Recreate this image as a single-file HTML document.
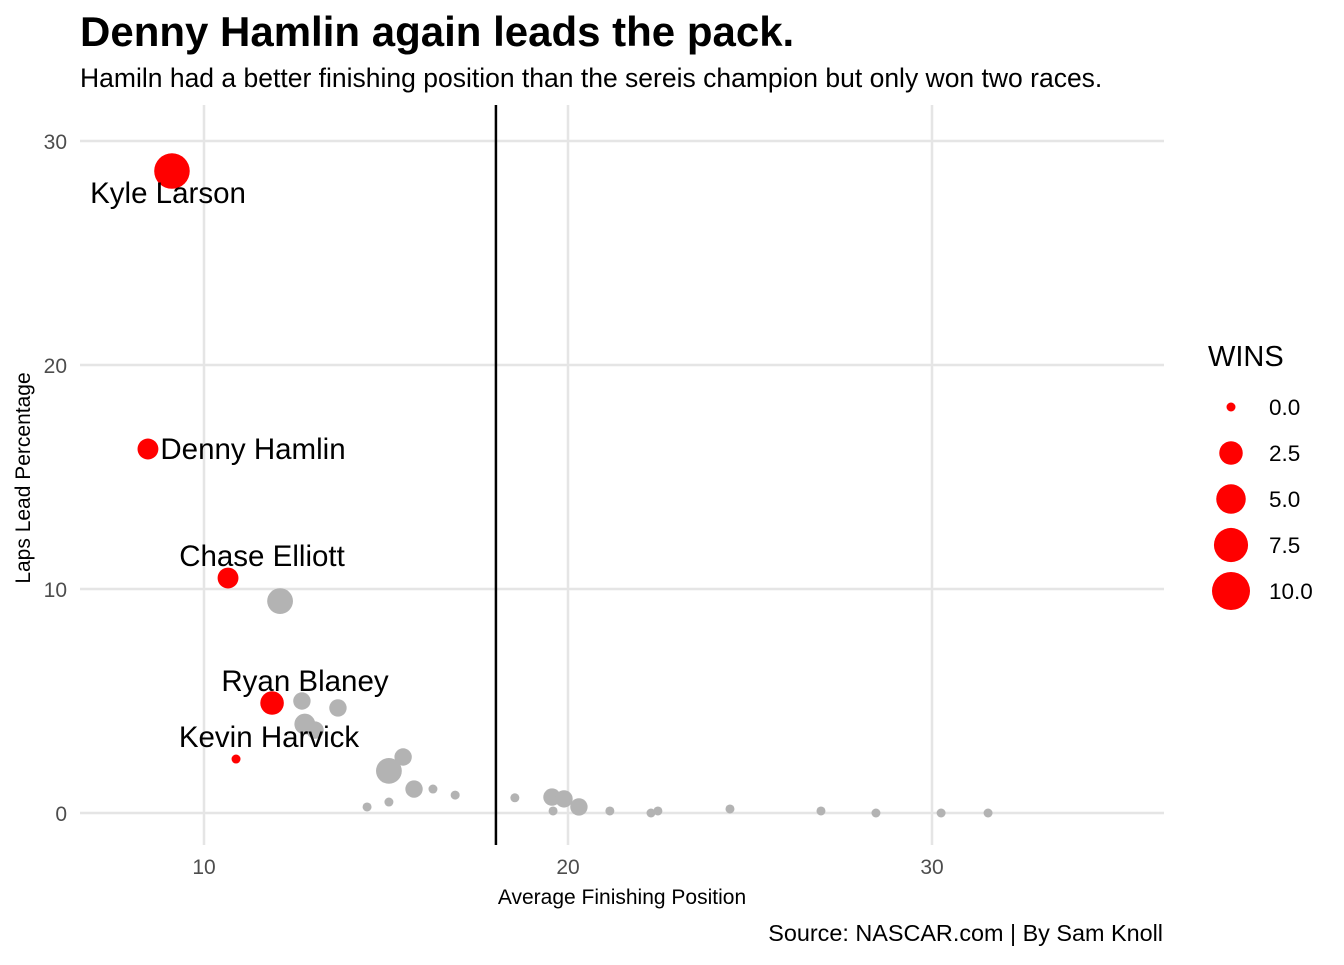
<!DOCTYPE html>
<html><head><meta charset="utf-8"><style>
body{margin:0;background:#fff;font-family:"Liberation Sans",Arial,sans-serif}
svg text{font-family:"Liberation Sans",Arial,sans-serif}
</style></head><body>
<svg id="c" width="1344" height="960" xmlns="http://www.w3.org/2000/svg">
<text x="80" y="46" font-size="42" font-weight="bold" fill="#000">Denny Hamlin again leads the pack.</text>
<text x="80" y="87" font-size="26.5" fill="#000">Hamiln had a better finishing position than the sereis champion but only won two races.</text>
<g id="grid"></g><g id="pts"></g><g id="lbls"></g>
<text x="622" y="904" font-size="21" text-anchor="middle" fill="#000">Average Finishing Position</text>
<text transform="translate(30,478) rotate(-90)" font-size="21" text-anchor="middle" fill="#000">Laps Lead Percentage</text>
<text x="1163" y="941" font-size="23.4" text-anchor="end" fill="#000">Source: NASCAR.com | By Sam Knoll</text>
<text x="1208" y="366" font-size="29" fill="#000">WINS</text>
<g id="leg"></g>
</svg>
<script>
const xs=[9.12,8.46,10.66,11.87,10.88,12.09,12.69,13.68,12.77,13.05,15.47,15.08,15.77,16.29,16.9,14.48,15.08,18.54,19.56,19.89,19.59,20.3,21.15,22.28,22.47,24.45,26.95,28.46,30.25,31.54];
const ys=[28.66,16.25,10.49,4.91,2.41,9.46,5.0,4.69,3.97,3.7,2.5,1.88,1.07,1.07,0.8,0.27,0.49,0.68,0.71,0.63,0.09,0.27,0.09,0,0.09,0.18,0.09,0,0,0];
const wins=[10,2,2,3,0,4,1,1,2,1,1,4,1,0,0,0,0,0,1,1,0,1,0,0,0,0,0,0,0,0];
const playoff=[1,1,1,1,1,0,0,0,0,0,0,0,0,0,0,0,0,0,0,0,0,0,0,0,0,0,0,0,0,0];
const names=["Kyle Larson","Denny Hamlin","Chase Elliott","Ryan Blaney","Kevin Harvick"];
const xTicks=[10,20,30];
const yTicks=[0,10,20,30];
const legendVals=[0,2.5,5,7.5,10];
const vline=18.02;
const X=v=>204+(v-10)*36.4, Y=v=>813-v*22.4;
const R=w=>4.5+4.2*Math.sqrt(w);
const NS="http://www.w3.org/2000/svg";
function mk(p,t,a){const e=document.createElementNS(NS,t);for(const k in a)e.setAttribute(k,a[k]);p.appendChild(e);return e;}
const g=document.getElementById('grid');
for(const t of xTicks){
 const l=mk(g,'line',{x1:X(t),x2:X(t),y1:105,y2:845,stroke:'#e5e5e5','stroke-width':2.5});
 
 
 const tx=mk(g,'text',{x:X(t),y:874,'font-size':21,fill:'#4d4d4d','text-anchor':'middle'});tx.textContent=t;
 
 
}
for(const t of yTicks){
 const l=mk(g,'line',{x1:80,x2:1164,y1:Y(t),y2:Y(t),stroke:'#e5e5e5','stroke-width':2.5});
 
 
 const tx=mk(g,'text',{x:67,y:Y(t)+8,'font-size':21,fill:'#4d4d4d','text-anchor':'end'});tx.textContent=t;
 
 
}
const vl=mk(g,'line',{x1:X(vline),x2:X(vline),y1:105,y2:845,stroke:'#000','stroke-width':2.5});


const pg=document.getElementById('pts');
const order=xs.map((_,i)=>i).sort((a,b)=>playoff[a]-playoff[b]);
for(const i of order){
 const c=mk(pg,'circle',{cx:X(xs[i]),cy:Y(ys[i]),r:R(wins[i]),fill:playoff[i]?'#ff0000':'#b3b3b3'});
 
 
}
const lg=document.getElementById('lbls');
const pos=[[168,203],[253,459],[262,566],[305,691],[269,747]];
for(let i=0;i<names.length;i++){
 const t=mk(lg,'text',{x:pos[i][0],y:pos[i][1],'font-size':29.5,fill:'#000','text-anchor':'middle'});
 t.textContent=names[i];
 
 
}
const leg=document.getElementById('leg');
legendVals.forEach((v,k)=>{
 const cy=407+k*46;
 const c=mk(leg,'circle',{cx:1231,cy:cy,r:4.5+4.59*Math.sqrt(v),fill:'#ff0000'});
 
 
 const t=mk(leg,'text',{x:1269,y:cy+8,'font-size':22.5,fill:'#000'});t.textContent=v.toFixed(1);
 
 
});
</script>
</body></html>
